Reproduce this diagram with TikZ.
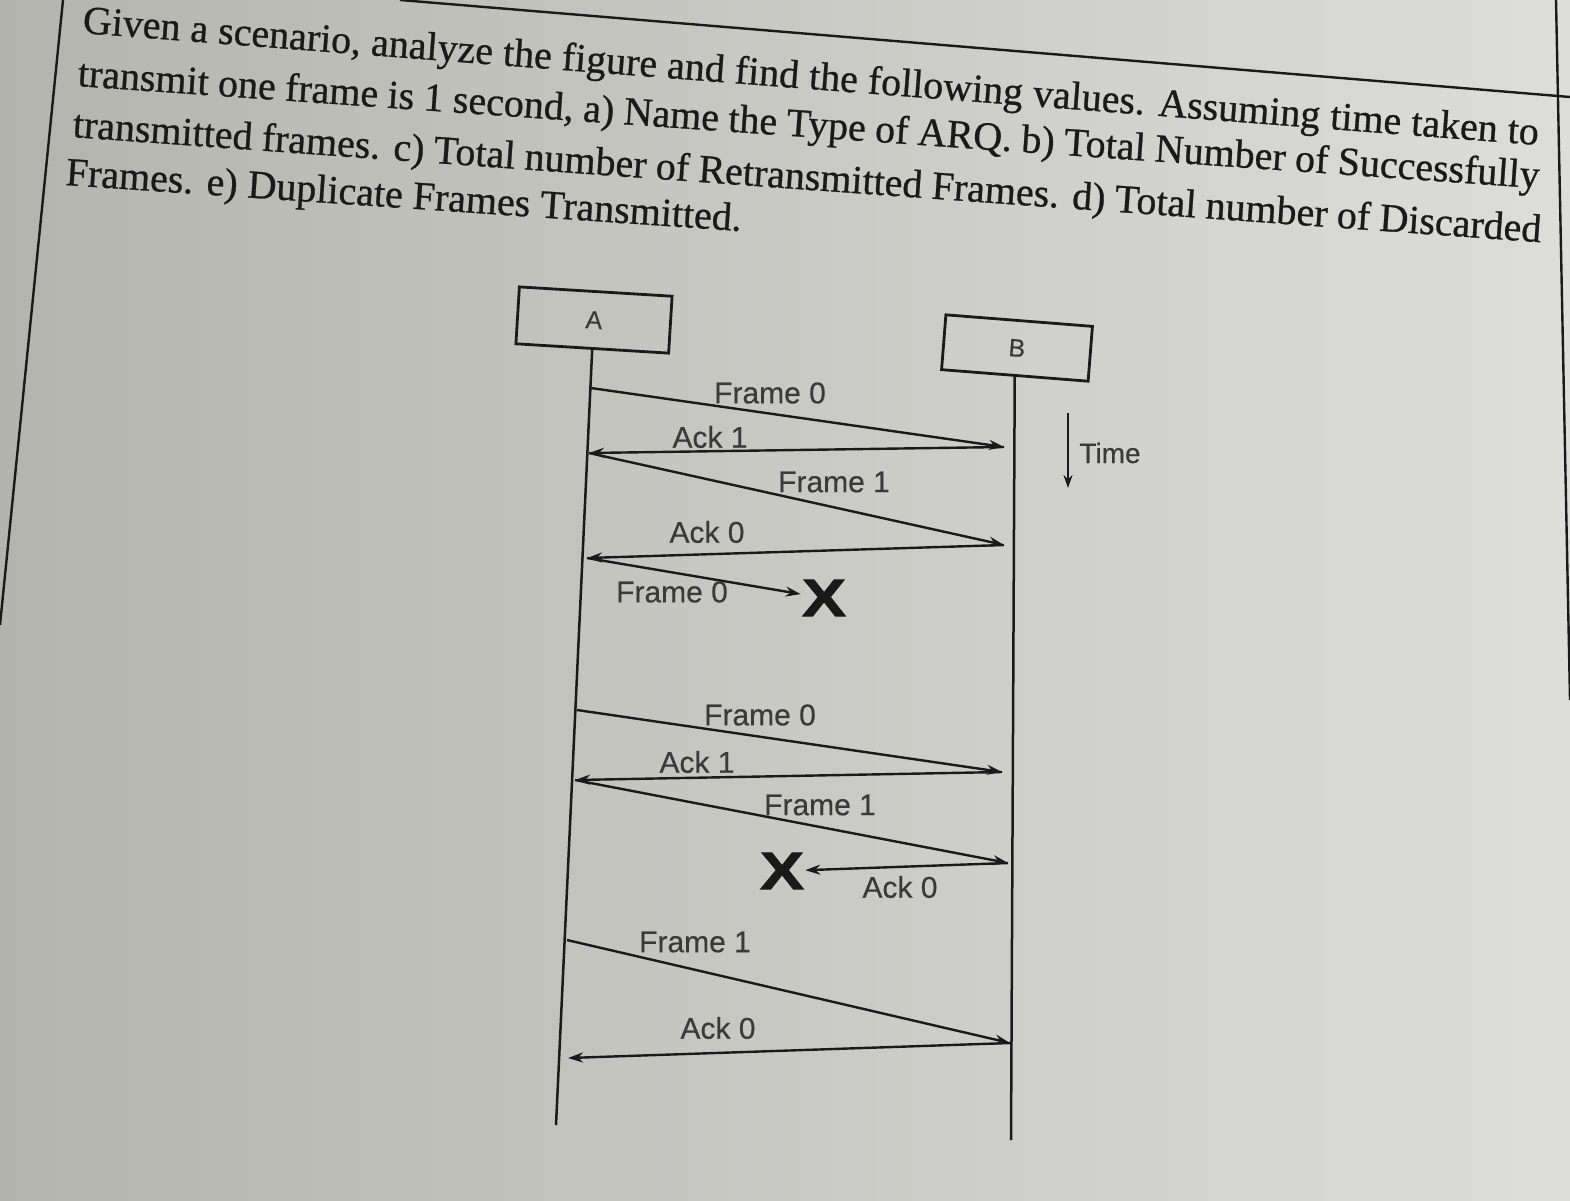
\documentclass[tikz,border=0pt]{standalone}
\usepackage{fontspec}
\setmainfont{Liberation Serif}
\newfontfamily\qfont{Liberation Serif}[FakeBold=0.7]
\newfontfamily\diagfont{Liberation Sans}[FakeBold=0.4]
\newfontfamily\crossfont{Liberation Sans Bold}[FakeBold=1.5]
\usepackage{xcolor}
\definecolor{ink}{HTML}{1A1A1A}
\definecolor{labelink}{HTML}{3A3A3A}
\definecolor{paper}{HTML}{DDDEDA}
\definecolor{paperdark}{HTML}{B4B4AE}
\usepackage{tikz}
\usetikzlibrary{arrows.meta}

\tikzset{
  question/.style={anchor=base west,inner sep=0pt,text=ink,font=\qfont\fontsize{40}{48}\selectfont},
  station/.style={draw=ink,line width=2.8pt,minimum width=153pt,minimum height=57pt,inner sep=0pt,text=labelink,font=\diagfont\fontsize{25}{30}\selectfont},
  lifeline/.style={draw=ink,line width=2.5pt},
  msg/.style={->,draw=ink,line width=2.4pt},
  lbl/.style={inner sep=0pt,text=labelink,font=\diagfont\fontsize{30}{36}\selectfont},
  lost/.style={inner sep=1pt,text=ink,font=\crossfont\fontsize{53}{53}\selectfont},
  rule/.style={draw=ink,line width=2.4pt},
}

\begin{document}
\begin{tikzpicture}[x=1pt,y=-1pt,>={Stealth[length=15pt,width=10pt]}]
% paper and bounding box
\shade[left color=paperdark,right color=paper] (0,0) rectangle (1570,1200);
\useasboundingbox (0,0) rectangle (1570,1200);

% table rules of the page
\coordinate (rl0) at (63,0);
\coordinate (rl1) at (0,625);
\coordinate (rr0) at (1556,0);
\coordinate (rr1) at (1570,700);
\coordinate (rt0) at (400,0);
\coordinate (rt1) at (1570,97);
\draw[rule] (rl0) -- (rl1);
\draw[rule] (rr0) -- (rr1);
\draw[rule] (rt0) -- (rt1);

% question
\node[question,rotate=-4.4] (q1) at (82,33) {\makebox[1460pt][s]{Given a scenario, analyze the figure and find the following values. Assuming time taken to}};
\node[question,rotate=-4.0] (q2) at (77,86) {\makebox[1465pt][s]{transmit one frame is 1 second, a) Name the Type of ARQ. b) Total Number of Successfully}};
\node[question,rotate=-4.1] (q3) at (72,137) {\makebox[1472pt][s]{transmitted frames. c) Total number of Retransmitted Frames. d) Total number of Discarded}};
\node[question,rotate=-3.9] (q4) at (65,185) {Frames. e) Duplicate Frames Transmitted.};

% stations
\node[station,rotate=-3.5] (A) at (594,320) {A};
\node[station,rotate=-4.5,minimum width=147pt,minimum height=55pt] (B) at (1017,348) {B};
\coordinate (Aend) at (556,1125);
\coordinate (Bend) at (1011,1140);
\draw[lifeline] (A.south) -- (Aend);
\draw[lifeline] (B.south) -- (Bend);

% time
\coordinate (t0) at (1068,413);
\coordinate (t1) at (1068,488);
\draw[msg,-{Stealth[length=13pt,width=9pt]}] (t0) -- (t1);
\node[lbl,font=\diagfont\fontsize{28}{34}\selectfont] (time) at (1110,453) {Time};

% event points
\coordinate (a1) at (591,388);
\coordinate (b1) at (1004,447);
\coordinate (a2) at (589,453);
\coordinate (b2) at (1004,545);
\coordinate (a3) at (587,558);
\coordinate (a4) at (577,710);
\coordinate (b3) at (1002,772);
\coordinate (a5) at (575,780);
\coordinate (b4) at (1008,863);
\coordinate (a6) at (567,940);
\coordinate (b5) at (1010,1043);
\coordinate (a7) at (568,1058);
\node[lost] (X1) at (824,598) {\scalebox{1.25}[1]{X}};
\node[lost] (X2) at (782,871) {\scalebox{1.25}[1]{X}};

% messages
\draw[msg] (a1) -- (b1);
\draw[msg] (b1) -- (a2);
\draw[msg] (a2) -- (b2);
\draw[msg] (b2) -- (a3);
\draw[msg] (a3) -- (X1);
\draw[msg] (a4) -- (b3);
\draw[msg] (b3) -- (a5);
\draw[msg] (a5) -- (b4);
\draw[msg] (b4) -- (X2);
\draw[msg] (a6) -- (b5);
\draw[msg] (b5) -- (a7);

% labels
\node[lbl] (f0a) at (770,393) {Frame 0};
\node[lbl] (k1a) at (710,437) {Ack 1};
\node[lbl] (f1a) at (834,482) {Frame 1};
\node[lbl] (k0a) at (707,532) {Ack 0};
\node[lbl] (f0b) at (672,592) {Frame 0};
\node[lbl] (f0c) at (760,715) {Frame 0};
\node[lbl] (k1b) at (697,762) {Ack 1};
\node[lbl] (f1b) at (820,805) {Frame 1};
\node[lbl] (k0b) at (900,887) {Ack 0};
\node[lbl] (f1c) at (695,942) {Frame 1};
\node[lbl] (k0c) at (718,1028) {Ack 0};
\end{tikzpicture}
\end{document}
